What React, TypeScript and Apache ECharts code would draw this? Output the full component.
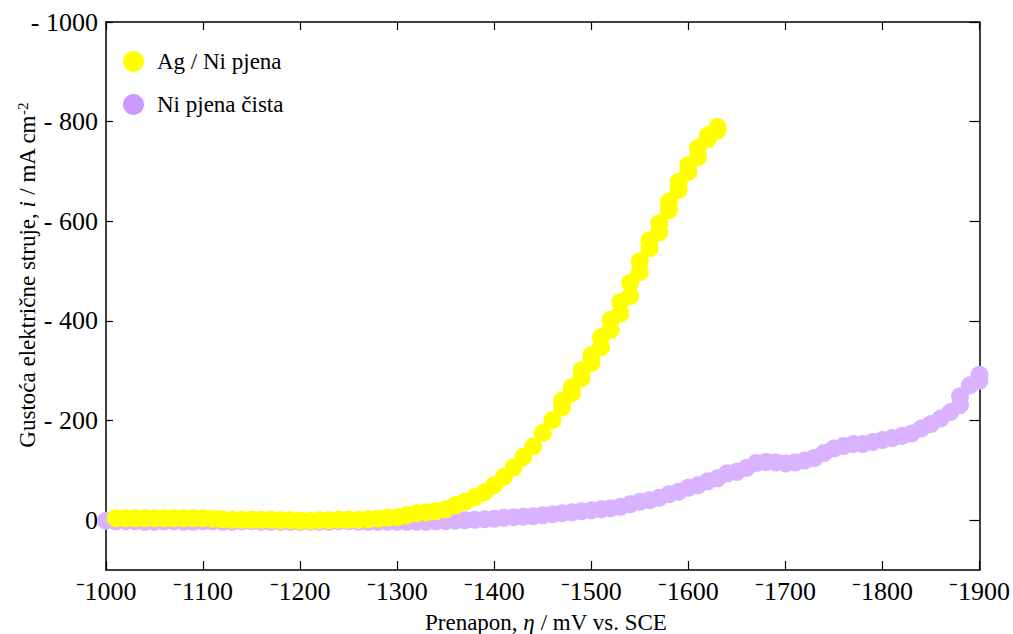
import React, { useEffect, useRef } from "react";
import * as echarts from "echarts";

// Ag / Ni pjena (yellow)
const agPotential = [
  -1010, -1020, -1030, -1040, -1050, -1060, -1070, -1080, -1090, -1100,
  -1110, -1120, -1130, -1140, -1150, -1160, -1170, -1180, -1190, -1200,
  -1210, -1220, -1230, -1240, -1250, -1260, -1270, -1280, -1290, -1300,
  -1310, -1320, -1330, -1340, -1350, -1360, -1370, -1380, -1390, -1400,
  -1410, -1420, -1430, -1440, -1450, -1460,
  -1470, -1470, -1480, -1480, -1490, -1490, -1500, -1500, -1510, -1510,
  -1520, -1520, -1530, -1530, -1540, -1540, -1550, -1550, -1560, -1560,
  -1570, -1570, -1580, -1580, -1590, -1590, -1600, -1600, -1610, -1610,
  -1620, -1620, -1630, -1630,
];
const agCurrent = [
  4, 4, 4, 4, 4, 4, 4, 4, 4, 4,
  3, 2, 1, 1, 1, 1, 1, 0, 0, -1,
  -1, 0, 0, 1, 1, 1, 2, 3, 5, 6,
  10, 14, 16, 18, 22, 30, 37, 46, 56, 70,
  87, 106, 127, 148, 175, 201,
  227, 240, 255, 267, 285, 301, 315, 331, 347, 367,
  382, 402, 415, 438, 450, 476, 498, 520, 546, 562,
  578, 596, 622, 639, 663, 679, 699, 713, 729, 747,
  765, 772, 782, 789,
];

// Ni pjena čista (lavender)
const niPotential = [
  -1000, -1010, -1020, -1030, -1040, -1050, -1060, -1070, -1080, -1090,
  -1100, -1110, -1120, -1130, -1140, -1150, -1160, -1170, -1180, -1190,
  -1200, -1210, -1220, -1230, -1240, -1250, -1260, -1270, -1280, -1290,
  -1300, -1310, -1320, -1330, -1340, -1350, -1360, -1370, -1380, -1390,
  -1400, -1410, -1420, -1430, -1440, -1450, -1460, -1470, -1480, -1490,
  -1500, -1510, -1520, -1530, -1540, -1550, -1560, -1570, -1580, -1590,
  -1600, -1610, -1620, -1630, -1640, -1650, -1660, -1670, -1680, -1690,
  -1700, -1710, -1720, -1730, -1740, -1750, -1760, -1770, -1780, -1790,
  -1800, -1810, -1820, -1830, -1840, -1850, -1860, -1870, -1880, -1880,
  -1890, -1900, -1900,
];
const niCurrent = [
  -1, -2, -2, -2, -3, -3, -2, -2, -3, -3,
  -2, -2, -3, -3, -2, -2, -3, -3, -3, -3,
  -3, -3, -3, -3, -2, -2, -3, -3, -3, -3,
  -3, -3, -3, -3, -2, -2, -1, 0, 1, 2,
  3, 5, 6, 7, 8, 10, 12, 14, 16, 18,
  20, 22, 24, 27, 32, 37, 40, 45, 52, 57,
  65, 70, 78, 84, 94, 97, 105, 115, 117, 116,
  114, 116, 120, 125, 135, 144, 149, 153, 153, 157,
  161, 165, 169, 174, 184, 193, 204, 217, 231, 249,
  271, 280, 292,
];

const yTicks = [0, 200, 400, 600, 800, 1000];

const agName = "Ag / Ni pjena";
const niName = "Ni pjena čista";

const FONT = "'Liberation Serif', 'Times New Roman', serif";

export default function App() {
  const ref = useRef<HTMLDivElement>(null);

  useEffect(() => {
    if (!ref.current) return;
    const chart = echarts.init(ref.current, null, { renderer: "svg" });
    const agData = agPotential.map((v, i) => [v, agCurrent[i]]);
    const niData = niPotential.map((v, i) => [v, niCurrent[i]]);

    const tickCommon = { inside: true, length: 9, lineStyle: { color: "#000", width: 1.2 } };
    const lineCommon = { show: true, onZero: false, lineStyle: { color: "#000", width: 1.5 } };

    chart.setOption({
      animation: false,
      backgroundColor: "#fff",
      textStyle: { fontFamily: FONT },
      grid: { left: 106, right: 30, top: 22, bottom: 64, containLabel: false },
      legend: {
        orient: "vertical",
        left: 118,
        top: 45,
        itemWidth: 21,
        itemHeight: 21,
        itemGap: 20,
        icon: "circle",
        data: [
          { name: agName, itemStyle: { color: "#FFFF00" } },
          { name: niName, itemStyle: { color: "#CC99FF" } },
        ],
        textStyle: { fontFamily: FONT, fontSize: 23, color: "#000", padding: [0, 0, 0, 8] },
      },
      xAxis: [
        {
          type: "value",
          position: "bottom",
          min: -1900,
          max: -1000,
          interval: 100,
          inverse: true,
          axisLine: lineCommon,
          axisTick: tickCommon,
          splitLine: { show: false },
          axisLabel: {
            margin: 8,
            fontFamily: FONT,
            fontSize: 26,
            color: "#000",
            formatter: (v: number) => (v < 0 ? "\u207B" + Math.abs(v) : String(v)),
          },
        },
        {
          type: "value",
          position: "top",
          min: -1900,
          max: -1000,
          interval: 100,
          inverse: true,
          axisLine: lineCommon,
          axisTick: { ...tickCommon, length: 8 },
          splitLine: { show: false },
          axisLabel: { show: false },
        },
      ],
      yAxis: [
        {
          type: "value",
          position: "left",
          min: -100,
          max: 1000,
          axisLine: lineCommon,
          axisTick: { ...tickCommon, length: 7, customValues: yTicks },
          splitLine: { show: false },
          axisLabel: {
            margin: 8,
            fontFamily: FONT,
            fontSize: 26,
            color: "#000",
            customValues: yTicks,
            formatter: (v: number) => (v === 0 ? "0" : "- " + v),
          },
        },
        {
          type: "value",
          position: "right",
          min: -100,
          max: 1000,
          axisLine: lineCommon,
          axisTick: { ...tickCommon, length: 10, customValues: yTicks },
          splitLine: { show: false },
          axisLabel: { show: false },
        },
      ],
      series: [
        {
          name: niName,
          type: "scatter",
          xAxisIndex: 0,
          yAxisIndex: 0,
          data: niData,
          symbol: "circle",
          symbolSize: 18,
          clip: false,
          z: 2,
          itemStyle: { color: "#D9B3FF", opacity: 1 },
        },
        {
          name: agName,
          type: "scatter",
          xAxisIndex: 0,
          yAxisIndex: 0,
          data: agData,
          symbol: "circle",
          symbolSize: 18,
          clip: false,
          z: 3,
          itemStyle: { color: "#FFFF00", opacity: 1 },
        },
      ],
      graphic: [
        {
          type: "text",
          x: 546,
          y: 622,
          style: {
            text: "{n|Prenapon, }{i|η}{n| / mV vs. SCE}",
            align: "center",
            verticalAlign: "middle",
            rich: {
              n: { fontFamily: FONT, fontSize: 23, fill: "#000" },
              i: { fontFamily: FONT, fontSize: 23, fontStyle: "italic", fill: "#000" },
            },
          },
        },
        {
          type: "text",
          x: 27,
          y: 275,
          rotation: Math.PI / 2,
          style: {
            text: "{n|Gustoća električne struje, }{i|i}{n| / mA cm}{s|-2}",
            align: "center",
            verticalAlign: "middle",
            rich: {
              n: { fontFamily: FONT, fontSize: 23, fill: "#000", verticalAlign: "bottom" },
              i: { fontFamily: FONT, fontSize: 23, fontStyle: "italic", fill: "#000", verticalAlign: "bottom" },
              s: { fontFamily: FONT, fontSize: 15, fill: "#000", verticalAlign: "top" },
            },
          },
        },
      ],
    });
    return () => chart.dispose();
  }, []);

  return (
    <div
      ref={ref}
      style={{ position: "fixed", left: 0, top: 0, width: 1013, height: 634, background: "#fff" }}
    />
  );
}
